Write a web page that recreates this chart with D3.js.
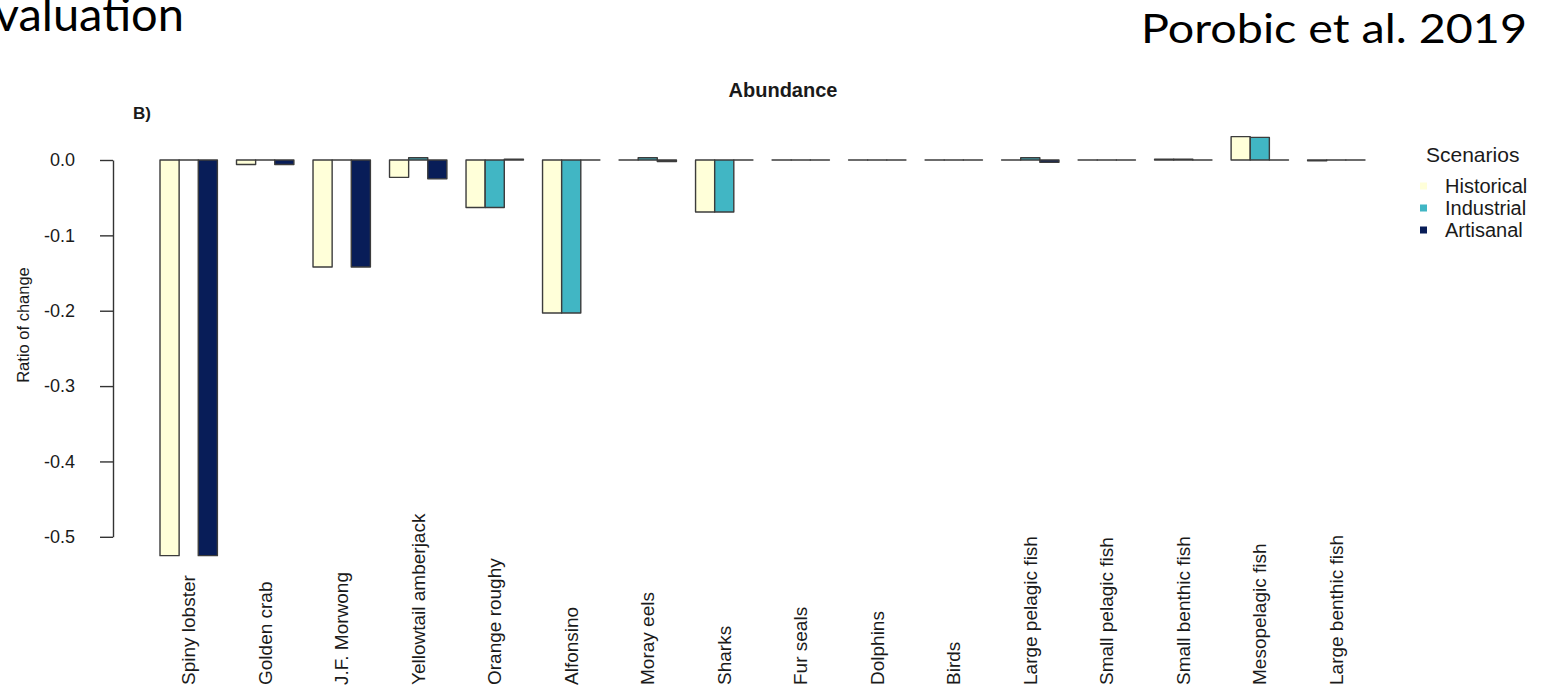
<!DOCTYPE html>
<html>
<head>
<meta charset="utf-8">
<script src="https://cdn.jsdelivr.net/npm/d3@7"></script>
<style>
  html, body { margin: 0; padding: 0; background: #ffffff; }
  svg { display: block; }
  text { font-family: "Liberation Sans", Arial, Helvetica, sans-serif; fill: #1a1a1a; }
  .slide { font-family: Lato, "Open Sans", sans-serif; fill: #000; }
</style>
</head>
<body>
<svg id="chart" width="1541" height="690"></svg>
<script>
// Species / functional groups along the x axis
const categories = [
  "Spiny lobster", "Golden crab", "J.F. Morwong", "Yellowtail amberjack",
  "Orange roughy", "Alfonsino", "Moray eels", "Sharks", "Fur seals",
  "Dolphins", "Birds", "Large pelagic fish", "Small pelagic fish",
  "Small benthic fish", "Mesopelagic fish", "Large benthic fish"
];

// Ratio of change in abundance per scenario
const historical = [-0.525, -0.006, -0.142, -0.023, -0.063, -0.203, 0.000, -0.069,
                    0.000, 0.000, 0.000, 0.000, 0.000, 0.001, 0.031, -0.001];
const industrial = [0.000, 0.000, 0.000, 0.003, -0.063, -0.203, 0.003, -0.069,
                    0.000, 0.000, 0.000, 0.003, 0.000, 0.001, 0.030, 0.000];
const artisanal  = [-0.525, -0.006, -0.142, -0.025, 0.001, 0.000, -0.002, 0.000,
                    0.000, 0.000, 0.000, -0.003, 0.000, 0.000, 0.000, 0.000];

const scenarios = ["Historical", "Industrial", "Artisanal"];
const scenarioColors = ["#ffffd9", "#41b6c4", "#081d58"];
const yTicks = [0.0, -0.1, -0.2, -0.3, -0.4, -0.5];

const seriesValues = [historical, industrial, artisanal];

const svg = d3.select("#chart");

// Slide header text
svg.append("text").attr("class", "slide")
  .attr("x", 184).attr("y", 31)
  .attr("text-anchor", "end")
  .style("font-size", "47px")
  .text("Evaluation");

svg.append("text").attr("class", "slide")
  .attr("x", 1527).attr("y", 43)
  .attr("text-anchor", "end")
  .attr("textLength", 386)
  .attr("lengthAdjust", "spacingAndGlyphs")
  .style("font-size", "40px")
  .text("Porobic et al. 2019");

// Scales
const x0 = d3.scaleBand()
  .domain(categories)
  .range([160, 1365])
  .paddingInner(0.25)
  .paddingOuter(0);

const x1 = d3.scaleBand()
  .domain(scenarios)
  .range([0, x0.bandwidth()]);

const y = d3.scaleLinear()
  .domain([0, -0.5])
  .range([160, 536.8]);

const color = d3.scaleOrdinal().domain(scenarios).range(scenarioColors);

// Bars drawn as closed paths so zero-height bars still show as a flat line
const bars = [];
categories.forEach((c, i) => {
  scenarios.forEach((s, j) => {
    bars.push({ cat: c, scen: s, value: seriesValues[j][i] });
  });
});

svg.append("g")
  .selectAll("path")
  .data(bars)
  .join("path")
  .attr("d", d => {
    const xa = x0(d.cat) + x1(d.scen);
    const xb = xa + x1.bandwidth();
    const ya = y(0), yb = y(d.value);
    return `M${xa},${ya}V${yb}H${xb}V${ya}Z`;
  })
  .attr("fill", d => color(d.scen))
  .attr("stroke", "#3c3c3c")
  .attr("stroke-width", 1.4)
  .attr("stroke-linejoin", "round");

// Y axis
const fmt = d3.formatLocale({ decimal: ".", thousands: ",", grouping: [3], currency: ["", ""], minus: "-" }).format(".1f");
const yAxis = svg.append("g")
  .attr("transform", "translate(113,0)")
  .call(d3.axisLeft(y).tickValues(yTicks).tickFormat(fmt).tickSize(13).tickSizeOuter(0).tickPadding(25));
yAxis.select(".domain").attr("stroke", "#333").attr("stroke-width", 1.4);
yAxis.selectAll(".tick line").attr("stroke", "#333").attr("stroke-width", 1.4);
yAxis.selectAll(".tick text")
  .attr("fill", "#1a1a1a")
  .style("font-size", "18px")
  .style("font-family", "'Liberation Sans', Arial, sans-serif");

// Y axis title
svg.append("text")
  .attr("transform", "translate(23,325) rotate(-90)")
  .attr("text-anchor", "middle")
  .attr("dominant-baseline", "central")
  .style("font-size", "16.5px")
  .text("Ratio of change");

// Category labels (perpendicular to the axis, starting from the bottom edge)
svg.append("g")
  .selectAll("text")
  .data(categories)
  .join("text")
  .attr("transform", d => `translate(${x0(d) + x0.bandwidth() / 2},685) rotate(-90)`)
  .attr("text-anchor", "start")
  .attr("dominant-baseline", "central")
  .style("font-size", "19px")
  .text(d => d);

// Panel title and tag
svg.append("text")
  .attr("x", 783).attr("y", 97)
  .attr("text-anchor", "middle")
  .style("font-size", "20px")
  .style("font-weight", "bold")
  .text("Abundance");

svg.append("text")
  .attr("x", 133).attr("y", 119)
  .style("font-size", "17px")
  .style("font-weight", "bold")
  .text("B)");

// Legend
const legend = svg.append("g").attr("transform", "translate(1426,0)");
legend.append("text")
  .attr("x", 0).attr("y", 162)
  .style("font-size", "21px")
  .text("Scenarios");

const items = legend.selectAll("g.item")
  .data(scenarios)
  .join("g")
  .attr("class", "item")
  .attr("transform", (d, i) => `translate(0,${186 + i * 22})`);

items.append("rect")
  .attr("x", -6).attr("y", -3.5)
  .attr("width", 7).attr("height", 7)
  .attr("fill", d => color(d));

items.append("text")
  .attr("x", 19).attr("y", 0)
  .attr("dominant-baseline", "central")
  .style("font-size", "20px")
  .text(d => d);
</script>
</body>
</html>
